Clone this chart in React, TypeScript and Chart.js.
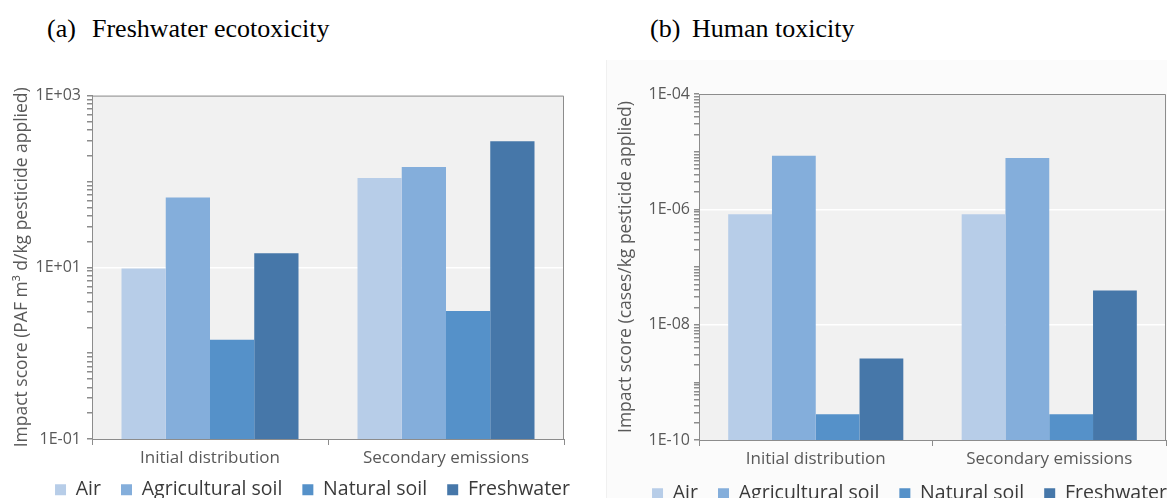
import React, { useEffect, useRef } from 'react';
import { Chart, registerables } from 'chart.js';

Chart.register(...registerables);

const categories = ['Initial distribution', 'Secondary emissions'];
const seriesNames = ['Air', 'Agricultural soil', 'Natural soil', 'Freshwater'];
const seriesColors = ['#b7cde8', '#84aedb', '#5591c9', '#4677a9'];

// (a) Freshwater ecotoxicity (PAF m³ d/kg)
const ecoAir = [9.7, 110];
const ecoAgri = [65, 147];
const ecoNatural = [1.43, 3.1];
const ecoFresh = [14.6, 294];
const ecoTickLabels = ['1E-01', '1E+01', '1E+03'];

// (b) Human toxicity (cases/kg)
const humAir = [8.2e-7, 8.2e-7];
const humAgri = [8.5e-6, 7.8e-6];
const humNatural = [2.8e-10, 2.8e-10];
const humFresh = [2.6e-9, 3.9e-8];
const humTickLabels = ['1E-10', '1E-08', '1E-06', '1E-04'];

const FONT = "'Open Sans', 'Noto Sans', sans-serif";
const AXIS_GRAY = '#8c8c8c';
const TEXT_GRAY = '#595959';

const plotFrame = {
  id: 'plotFrame',
  beforeDraw(chart: any) {
    const { ctx, chartArea } = chart;
    const { left, top, right, bottom } = chartArea;
    ctx.save();
    ctx.fillStyle = '#f1f1f1';
    ctx.fillRect(left, top, right - left, bottom - top);
    ctx.restore();
  },
  afterDraw(chart: any) {
    const { ctx, chartArea } = chart;
    const { left, top, right, bottom } = chartArea;
    ctx.save();
    ctx.strokeStyle = AXIS_GRAY;
    ctx.lineWidth = 1;
    ctx.beginPath();
    ctx.moveTo(left, top + 0.5);
    ctx.lineTo(right - 0.5, top + 0.5);
    ctx.lineTo(right - 0.5, bottom);
    ctx.stroke();
    ctx.restore();
  },
};

const legendShift = {
  id: 'legendShift',
  afterLayout(chart: any, _args: any, opts: any) {
    const lg = chart.legend;
    if (!lg) return;
    const dx = (opts && opts.dx) || 0;
    const dy = (opts && opts.dy) || 0;
    lg.left += dx;
    lg.right += dx;
    lg.top += dy;
    lg.bottom = chart.height + 40;
  },
};

function fmtExp(v: number) {
  const e = Math.round(Math.log10(v));
  const sign = e < 0 ? '-' : '+';
  const a = Math.abs(e);
  return '1E' + sign + (a < 10 ? '0' + a : String(a));
}

type PanelProps = {
  left: number;
  top: number;
  width: number;
  height: number;
  series: number[][];
  tickLabels: string[];
  yTitle: string;
  yWidth: number;
  titlePad: number;
  padTop: number;
  padRight: number;
  legendHeight: number;
  legendDx: number;
  legendDy: number;
  tickPad: number;
};

function Panel(p: PanelProps) {
  const ref = useRef<HTMLCanvasElement | null>(null);
  useEffect(() => {
    if (!ref.current) return;
    const majors = p.tickLabels.map((s) => Number(s));
    const yMin = majors[0];
    const yMax = majors[majors.length - 1];
    const isMajor = (v: number) => majors.some((m) => Math.abs(v / m - 1) < 1e-6);
    const chart = new Chart(ref.current, {
      type: 'bar',
      data: {
        labels: categories,
        datasets: p.series.map((vals, i) => ({
          label: seriesNames[i],
          data: vals,
          backgroundColor: seriesColors[i],
          borderWidth: 0,
          barPercentage: 1,
          categoryPercentage: 0.75,
        })),
      },
      options: {
        animation: false,
        responsive: false,
        maintainAspectRatio: false,
        layout: { padding: { top: p.padTop, right: p.padRight, left: 0, bottom: 0 } },
        plugins: {
          tooltip: { enabled: false },
          legendShift: { dx: p.legendDx, dy: p.legendDy },
          legend: {
            position: 'bottom',
            align: 'end',
            maxHeight: p.legendHeight,
            labels: {
              boxWidth: 11,
              boxHeight: 11,
              padding: 20,
              color: '#3a3a3a',
              font: { family: FONT, size: 19.5 },
            },
          },
        },
        scales: {
          x: {
            type: 'category',
            grid: {
              display: true,
              drawOnChartArea: false,
              drawTicks: true,
              tickLength: 6,
              color: AXIS_GRAY,
              offset: true,
            },
            border: { color: AXIS_GRAY },
            ticks: { color: TEXT_GRAY, font: { family: FONT, size: 17 }, padding: 3 },
            afterFit(scale: any) {
              scale.height = 32;
            },
          },
          y: {
            type: 'logarithmic',
            min: yMin,
            max: yMax,
            afterBuildTicks(scale: any) {
              const ticks: { value: number }[] = [];
              const e0 = Math.round(Math.log10(yMin));
              const e1 = Math.round(Math.log10(yMax));
              for (let e = e0; e <= e1; e++) {
                for (let m = 1; m <= 9; m++) {
                  const v = Number((m * Math.pow(10, e)).toPrecision(6));
                  if (v <= yMax * 1.0000001) ticks.push({ value: v });
                }
              }
              scale.ticks = ticks;
            },
            afterFit(scale: any) {
              scale.width = p.yWidth;
            },
            grid: {
              drawTicks: true,
              tickLength: 5,
              tickColor: AXIS_GRAY,
              lineWidth: 1.5,
              color: (ctx: any) => {
                const v = ctx.tick ? ctx.tick.value : NaN;
                if (isMajor(v) && v !== yMin && v !== yMax) return '#ffffff';
                return 'rgba(0,0,0,0)';
              },
            },
            border: { color: AXIS_GRAY },
            ticks: {
              autoSkip: false,
              padding: p.tickPad,
              color: TEXT_GRAY,
              font: { family: FONT, size: 16 },
              callback: (value: any) => {
                const v = Number(value);
                return isMajor(v) ? fmtExp(v) : '';
              },
            },
            title: {
              display: true,
              text: p.yTitle,
              color: TEXT_GRAY,
              font: { family: FONT, size: 17.5 },
              padding: { top: p.titlePad, bottom: 0 },
            },
          },
        },
      } as any,
      plugins: [plotFrame, legendShift],
    });
    return () => chart.destroy();
  }, []);
  return (
    <canvas
      ref={ref}
      width={p.width}
      height={p.height}
      style={{ position: 'absolute', left: p.left, top: p.top, width: p.width, height: p.height }}
    />
  );
}

const titleStyle: React.CSSProperties = {
  position: 'absolute',
  top: 14,
  fontFamily: "'Liberation Serif', 'Times New Roman', serif",
  fontSize: 26,
  lineHeight: '29px',
  color: '#000',
  whiteSpace: 'pre',
};

export default function App() {
  return (
    <div
      style={{
        position: 'absolute',
        left: 0,
        top: 0,
        width: 1167,
        height: 498,
        background: '#ffffff',
        overflow: 'hidden',
      }}
    >
      <div
        style={{
          position: 'absolute',
          left: 606,
          top: 60,
          width: 561,
          height: 438,
          background: '#fbfbfb',
          borderLeft: '1px solid #f0f0f0',
        }}
      />
      <span style={{ ...titleStyle, left: 47 }}>(a)</span>
      <span style={{ ...titleStyle, left: 92 }}>Freshwater ecotoxicity</span>
      <span style={{ ...titleStyle, left: 650 }}>(b)</span>
      <span style={{ ...titleStyle, left: 692 }}>Human toxicity</span>
      <Panel
        left={0}
        top={80}
        width={580}
        height={418}
        series={[ecoAir, ecoAgri, ecoNatural, ecoFresh]}
        tickLabels={ecoTickLabels}
        yTitle="Impact score (PAF m³ d/kg pesticide applied)"
        yWidth={92}
        titlePad={12}
        padTop={13}
        padRight={16}
        legendHeight={27}
        legendDx={26}
        legendDy={-11}
        tickPad={6}
      />
      <Panel
        left={580}
        top={80}
        width={587}
        height={418}
        series={[humAir, humAgri, humNatural, humFresh]}
        tickLabels={humTickLabels}
        yTitle="Impact score (cases/kg pesticide applied)"
        yWidth={119}
        titlePad={36}
        padTop={14}
        padRight={1}
        legendHeight={26}
        legendDx={21}
        legendDy={-8}
        tickPad={4}
      />
    </div>
  );
}
